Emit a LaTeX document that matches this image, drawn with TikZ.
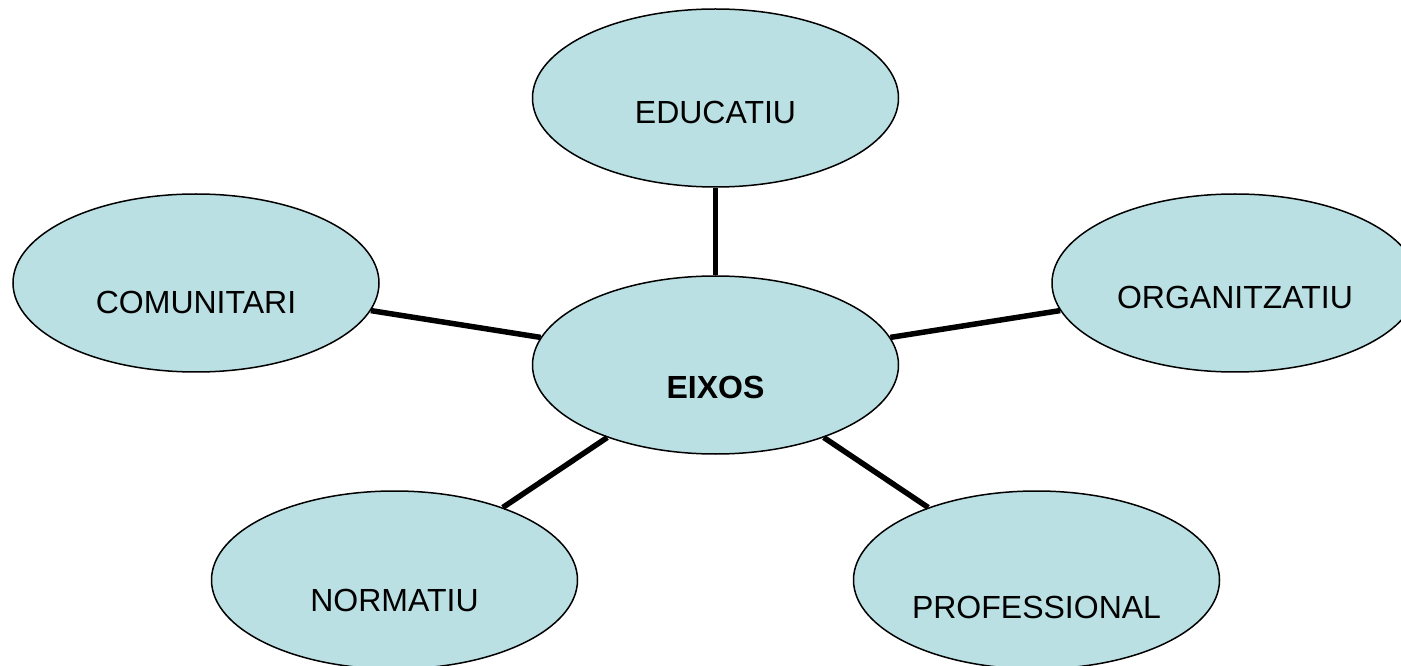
\documentclass[tikz,border=0pt]{standalone}
\usepackage{fontspec}
\setmainfont{Liberation Sans}
\usepackage{tikz}
\usetikzlibrary{shapes.geometric}
\usetikzlibrary{positioning}
\definecolor{eixfill}{RGB}{186,224,227}

\begin{document}
\begin{tikzpicture}[x=1pt,y=1pt,
        every label/.style={font=\fontsize{32}{38}\selectfont,inner sep=0pt},
        eix/.style={ellipse,draw,fill=eixfill,line width=1.5pt,inner sep=0pt,
          minimum width=366pt,minimum height=178pt,on grid},
        spoke/.style={line width=5.5pt}]
   \useasboundingbox (0,0) rectangle (1401,665);
   \node (eixos) [eix,label={[yshift=-22pt,font=\fontsize{32}{38}\selectfont\bfseries]center:EIXOS}] at (715.5,300) {};
   \node (educ) [eix,above=267pt of eixos,label={[yshift=-14pt]center:EDUCATIU}] {};
   \node (comu) [eix,above left=82pt and 519.5pt of eixos,label={[yshift=-19pt]center:COMUNITARI}] {};
   \node (orga) [eix,above right=82pt and 519.5pt of eixos,label={[yshift=-14pt]center:ORGANITZATIU}] {};
   \node (norm) [eix,below left=215pt and 321pt of eixos,label={[yshift=-20pt]center:NORMATIU}] {};
   \node (prof) [eix,below right=215pt and 321pt of eixos,label={[yshift=-27pt]center:PROFESSIONAL}] {};
   \draw[spoke] (eixos) -- (educ);
   \draw[spoke] (eixos) -- (comu);
   \draw[spoke] (eixos) -- (orga);
   \draw[spoke] (eixos) -- (norm);
   \draw[spoke] (eixos) -- (prof);
\end{tikzpicture}
\end{document}
